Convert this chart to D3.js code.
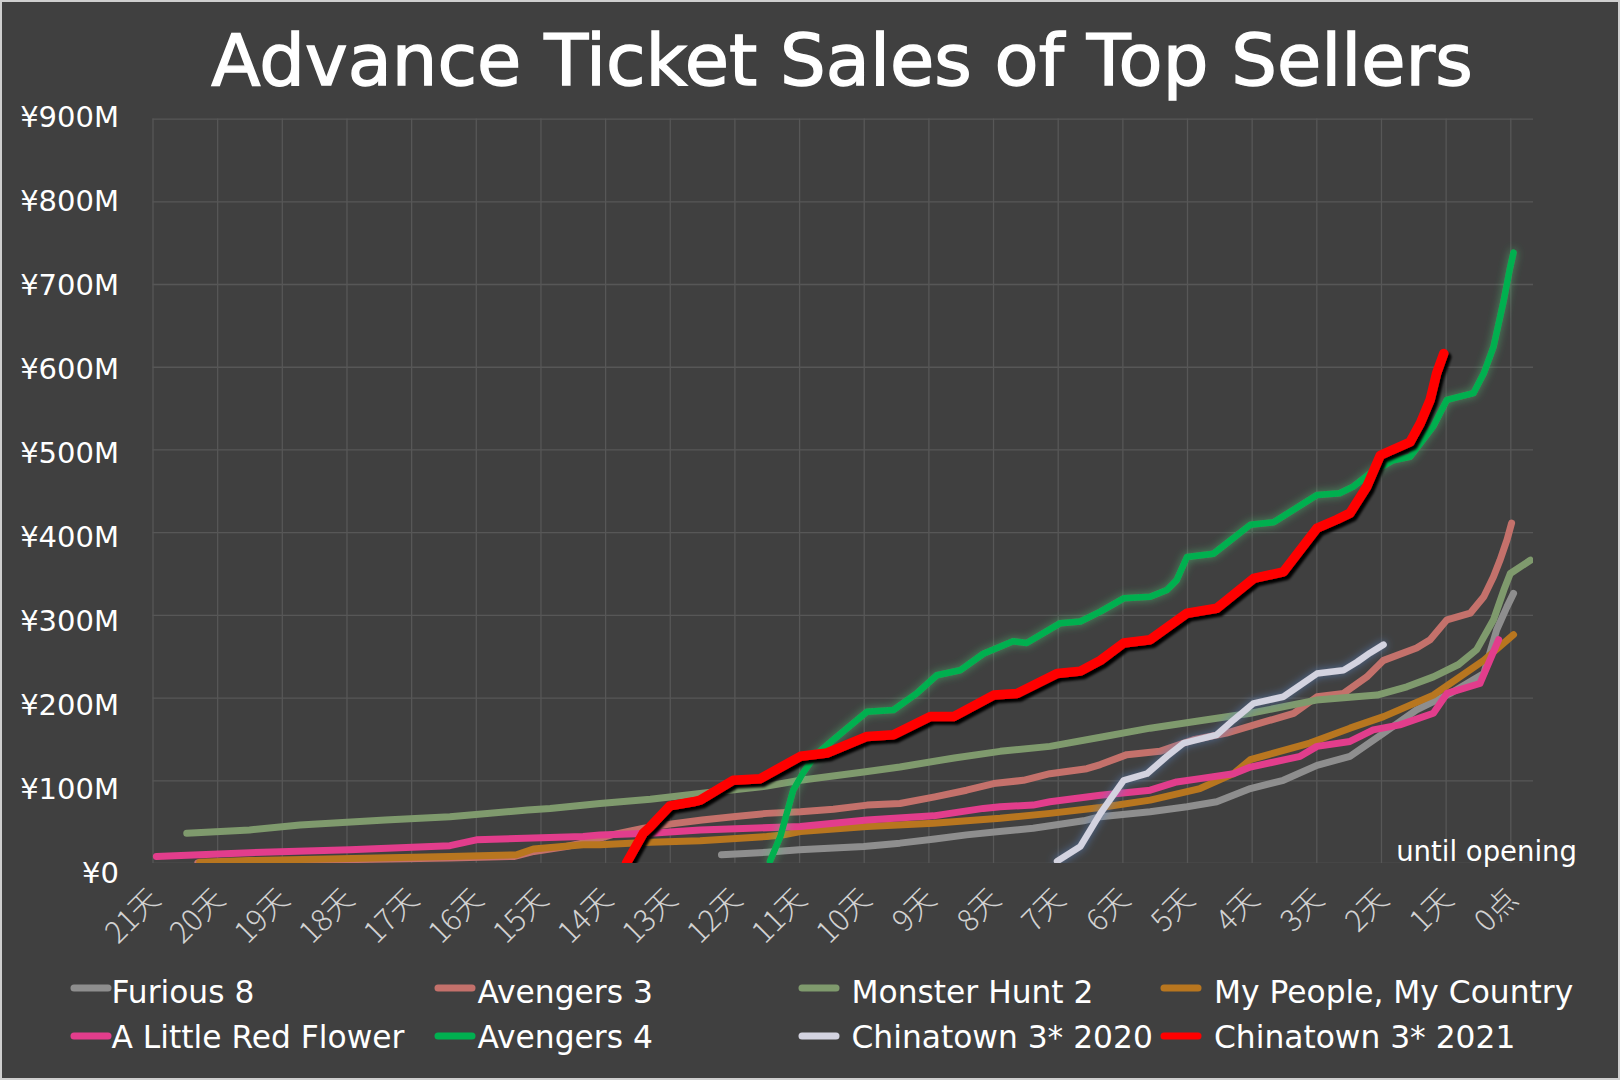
<!DOCTYPE html>
<html><head><meta charset="utf-8">
<script src="https://cdn.jsdelivr.net/npm/d3@7/dist/d3.min.js"></script>
<style>html,body{margin:0;padding:0;background:#cfcfcf;}svg{display:block;}</style>
</head><body>
<svg id="chart" width="1620" height="1080"></svg>
<script>
// ---------- DATA ----------
const categories = ["21天","20天","19天","18天","17天","16天","15天","14天","13天","12天","11天","10天","9天","8天","7天","6天","5天","4天","3天","2天","1天","0点"];
const categoryDays = d3.range(21, -1, -1);
const yTicks = [0,100,200,300,400,500,600,700,800,900];
const yTickLabels = ["¥0","¥100M","¥200M","¥300M","¥400M","¥500M","¥600M","¥700M","¥800M","¥900M"];
const seriesNames = ["Furious 8","Avengers 3","Monster Hunt 2","My People, My Country","A Little Red Flower","Avengers 4","Chinatown 3* 2020","Chinatown 3* 2021"];

// [days until opening, ticket sales ¥M]
const furious8 = [[12.2,10],[11.5,13],[11.0,16],[10.0,20],[9.44,24],[8.9,29],[8.41,34],[7.9,38],[7.38,42],[7.12,45],[6.6,51],[6.34,56],[5.57,62],[5.0,68],[4.54,74],[4.02,90],[3.51,100],[2.99,118],[2.48,129],[1.96,157],[1.45,185],[0.93,205],[0.41,229],[0.21,282],[0.05,310],[-0.05,326]];
const avengers3 = [[20.3,0],[19.5,2],[18,4],[16.4,6],[15.4,8],[15.1,14],[14.6,20],[14.3,25],[13.9,34],[13.4,42],[13,47],[12.5,52],[12.02,56],[11.5,60],[10.98,62],[10.47,65],[9.95,70],[9.44,72],[8.9,80],[8.41,88],[7.99,96],[7.53,100],[7.12,108],[6.55,114],[6.34,119],[5.93,131],[5.42,135],[4.9,149],[4.39,157],[3.87,169],[3.35,181],[2.99,201],[2.58,205],[2.22,225],[1.96,245],[1.45,260],[1.24,270],[0.98,294],[0.62,302],[0.41,322],[0.26,346],[0.16,366],[0.05,391],[-0.02,411]];
const monsterHunt2 = [[20.47,36],[19.5,40],[18.72,46],[17.4,52],[16.4,56],[15.2,64],[14.85,66],[14.08,72],[13.3,77],[12.53,84],[11.5,93],[10.98,100],[10.0,110],[9.44,116],[8.6,127],[7.89,135],[7.12,141],[6.34,152],[5.57,163],[4.8,172],[4.02,181],[3.0,197],[2.06,203],[1.6,213],[1.19,225],[0.8,240],[0.52,258],[0.26,294],[0.1,330],[0,350],[-0.31,366]];
const myPeopleMyCountry = [[20.27,1],[19.5,3],[16.4,8],[15.37,10],[15.11,17],[14.34,22],[14.08,22],[13.3,25],[12.53,27],[11.5,32],[11.24,34],[10.98,38],[9.95,44],[8.92,48],[7.89,54],[7.12,60],[6.34,67],[5.57,76],[4.8,90],[4.28,108],[4.02,125],[3.1,145],[2.48,163],[1.96,177],[1.19,203],[0.41,245],[-0.05,276]];
const aLittleRedFlower = [[20.94,8],[20.27,10],[19.49,12.5],[17.95,16],[16.4,21],[15.99,28],[14.34,32],[14.08,34],[13.3,36],[12.53,40],[10.98,44],[9.95,52],[8.92,57],[8.15,66],[7.89,68],[7.38,70],[7.12,74],[6.34,82],[5.57,88],[5.16,98],[4.8,102],[4.28,108],[4.02,116],[3.25,129],[2.99,141],[2.48,147],[2.12,161],[1.71,167],[1.19,181],[0.98,205],[0.47,217],[0.36,237],[0.18,270]];
const avengers4 = [[11.45,2],[11.29,32],[11.09,88],[10.93,110],[10.75,130],[10.47,149],[9.95,183],[9.54,185],[9.18,205],[8.87,227],[8.51,233],[8.15,253],[7.69,268],[7.48,266],[6.96,290],[6.65,292],[6.34,304],[5.98,320],[5.57,322],[5.31,330],[5.16,342],[5.0,370],[4.59,374],[4.02,409],[3.66,412],[2.99,445],[2.64,447],[2.43,455],[2.17,471],[1.81,487],[1.55,491],[1.19,528],[0.98,560],[0.57,568],[0.41,592],[0.26,624],[0.11,677],[0,721],[-0.05,738]];
const chinatown2020 = [[7.01,2],[6.65,20],[6.34,60],[5.98,100],[5.62,108],[5.31,129],[5.05,145],[4.54,155],[4.28,173],[3.97,193],[3.51,201],[2.99,229],[2.58,233],[2.37,243],[2.17,254],[1.96,264]];
const chinatown2021 = [[13.67,0],[13.41,36],[13.3,44],[13.0,69],[12.64,74],[12.53,76],[12.02,100],[11.6,102],[10.98,129],[10.57,133],[9.95,153],[9.54,155],[8.97,177],[8.61,177],[7.99,203],[7.63,205],[7.01,229],[6.65,232],[6.34,245],[5.98,266],[5.57,270],[5.0,302],[4.54,308],[3.97,344],[3.51,352],[2.99,405],[2.69,415],[2.48,423],[2.22,455],[2.01,493],[1.55,509],[1.39,532],[1.24,560],[1.14,592],[1.03,616]];

// ---------- STYLE ----------
const seriesData = {
  "Furious 8": furious8, "Avengers 3": avengers3, "Monster Hunt 2": monsterHunt2,
  "My People, My Country": myPeopleMyCountry, "A Little Red Flower": aLittleRedFlower,
  "Avengers 4": avengers4, "Chinatown 3* 2020": chinatown2020, "Chinatown 3* 2021": chinatown2021
};
const styles = {
  "Furious 8": {color:"#8e8e8e", w:7},
  "Avengers 3": {color:"#c4716b", w:7},
  "Monster Hunt 2": {color:"#7f9a6d", w:7},
  "My People, My Country": {color:"#b8761f", w:7},
  "A Little Red Flower": {color:"#e23d8c", w:7},
  "Avengers 4": {color:"#00b050", w:6.5, filter:"url(#glowGreen)"},
  "Chinatown 3* 2020": {color:"#d3d3e0", w:6.5, filter:"url(#glowBlue)"},
  "Chinatown 3* 2021": {color:"#ff0000", w:9.5, filter:"url(#shadowRed)"}
};
const drawOrder = ["Furious 8","Avengers 3","My People, My Country","Monster Hunt 2","A Little Red Flower","Chinatown 3* 2020","Avengers 4","Chinatown 3* 2021"];

const W = 1620, H = 1080;
const plot = {left:152.5, right:1533, top:118.6, bottom:863};
const FONT = "'DejaVu Sans', Verdana, sans-serif";

const svg = d3.select("#chart");
svg.append("rect").attr("width",W).attr("height",H).attr("fill","#cfcfcf");
svg.append("rect").attr("x",2).attr("y",2).attr("width",W-4).attr("height",H-4).attr("fill","#404040");

const defs = svg.append("defs");
defs.append("clipPath").attr("id","plotClip").append("rect")
  .attr("x",plot.left-10).attr("y",plot.top-10).attr("width",plot.right-plot.left+10).attr("height",plot.bottom-plot.top+10);
const fg = defs.append("filter").attr("id","glowGreen").attr("x","-20%").attr("y","-20%").attr("width","140%").attr("height","140%");
fg.append("feDropShadow").attr("dx",0).attr("dy",0).attr("stdDeviation",4).attr("flood-color","#4fd27a").attr("flood-opacity",0.55);
const fb = defs.append("filter").attr("id","glowBlue").attr("x","-20%").attr("y","-20%").attr("width","140%").attr("height","140%");
fb.append("feDropShadow").attr("dx",0).attr("dy",0).attr("stdDeviation",4).attr("flood-color","#5a86c8").attr("flood-opacity",0.7);
const fr = defs.append("filter").attr("id","shadowRed").attr("x","-20%").attr("y","-20%").attr("width","140%").attr("height","140%");
fr.append("feDropShadow").attr("dx",3).attr("dy",3.5).attr("stdDeviation",1.3).attr("flood-color","#000").attr("flood-opacity",1);

// scales
const x = d3.scaleLinear().domain([21,0]).range([plot.left, 1510.3]);
const y = d3.scaleLinear().domain([0,900]).range([plot.bottom, plot.top]);
const yLabel = d3.scaleLinear().domain([0,900]).range([872, 115.7]);

// grid
const grid = svg.append("g");
grid.append("g").attr("transform",`translate(${plot.left},0)`)
  .call(d3.axisLeft(y).tickValues(yTicks).tickSize(-(plot.right-plot.left)).tickFormat(""))
  .call(g=>g.select(".domain").remove())
  .call(g=>g.selectAll("line").attr("stroke","#575757").attr("stroke-width",1.3));
grid.append("g").attr("transform",`translate(0,${plot.top})`)
  .call(d3.axisBottom(x).tickValues(categoryDays).tickSize(plot.bottom-plot.top).tickFormat(""))
  .call(g=>g.select(".domain").remove())
  .call(g=>g.selectAll("line").attr("stroke","#575757").attr("stroke-width",1.3));

// y labels
svg.append("g").attr("transform","translate(119,0)")
  .call(d3.axisLeft(yLabel).tickValues(yTicks).tickSize(0).tickPadding(0).tickFormat((d,i)=>yTickLabels[i]))
  .call(g=>g.select(".domain").remove())
  .call(g=>g.selectAll("text").attr("fill","#fff").attr("font-size",29).attr("font-family",FONT).attr("dy","0.36em"));

// x labels
const xl = svg.append("g").attr("transform",`translate(0,${plot.bottom})`)
  .call(d3.axisBottom(x).tickValues(categoryDays).tickSize(0).tickFormat((d,i)=>categories[i]))
  .call(g=>g.select(".domain").remove());
xl.selectAll("text")
  .attr("fill","#d2d2d2").attr("font-size",30).attr("font-family","'Noto Sans CJK SC', sans-serif").attr("font-weight",300)
  .attr("text-anchor","end").attr("dy",0).attr("y",0)
  .attr("transform","translate(9,38) rotate(-45)");

// lines
const line = d3.line().x(d=>x(d[0])).y(d=>y(d[1])).curve(d3.curveLinear);
const lines = svg.append("g").attr("clip-path","url(#plotClip)");
drawOrder.forEach(name=>{
  const s = styles[name];
  lines.append("path").datum(seriesData[name])
    .attr("d",line).attr("fill","none").attr("stroke",s.color).attr("stroke-width",s.w)
    .attr("stroke-linejoin","round").attr("stroke-linecap","round")
    .attr("filter",s.filter||null);
});
// re-clip bottom edge
svg.append("rect").attr("x",plot.left-12).attr("y",plot.bottom).attr("width",plot.right-plot.left+14).attr("height",14).attr("fill","#404040");

// title
svg.append("text").attr("x",842).attr("y",85).attr("text-anchor","middle")
  .attr("font-family",FONT).attr("font-size",72).attr("fill","#fff")
  .attr("stroke","#fff").attr("stroke-width",1.4)
  .text("Advance Ticket Sales of Top Sellers");

// until opening
svg.append("text").attr("x",1577).attr("y",861).attr("text-anchor","end")
  .attr("font-family",FONT).attr("font-size",27.5).attr("fill","#fff").text("until opening");

// legend
const legSwatchX = [74, 438, 802, 1164];
const legTextX = [111.5, 477.5, 851.5, 1214];
const legSwatchY = [988, 1036];
const legTextY = [1003, 1048];
const leg = svg.append("g");
seriesNames.forEach((name,i)=>{
  const c = i%4, r = Math.floor(i/4);
  leg.append("line").attr("x1",legSwatchX[c]).attr("x2",legSwatchX[c]+34).attr("y1",legSwatchY[r]).attr("y2",legSwatchY[r])
    .attr("stroke",styles[name].color).attr("stroke-width",7).attr("stroke-linecap","round");
  leg.append("text").attr("x",legTextX[c]).attr("y",legTextY[r])
    .attr("font-family",FONT).attr("font-size",31.3).attr("fill","#fff").text(name);
});
</script>
</body></html>
